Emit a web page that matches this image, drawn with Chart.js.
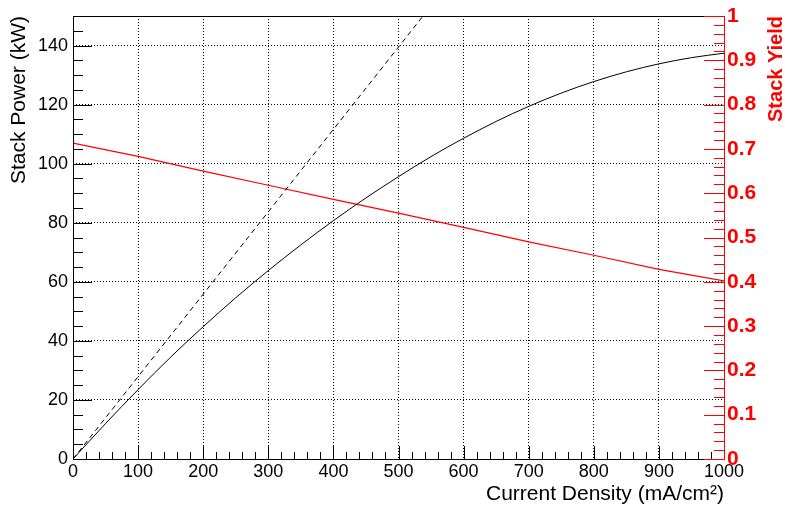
<!DOCTYPE html>
<html>
<head>
<meta charset="utf-8">
<script src="https://cdn.jsdelivr.net/npm/chart.js@4.4.0/dist/chart.umd.min.js"></script>
<style>
  html, body { margin: 0; padding: 0; background: #fff; }
  #wrap { width: 785px; height: 507px; }
</style>
</head>
<body>
<div id="wrap"><canvas id="c" width="785" height="507"></canvas></div>
<script>
// values
const currentDensity = [0, 50, 100, 150, 200, 250, 300, 350, 400, 450, 500, 550, 600, 650, 700, 750, 800, 850, 900, 950, 1000];
const stackPower = [0, 12, 23.5, 34.5, 44.8, 54.6, 63.8, 72.5, 80.7, 88.4, 95.6, 102.4, 108.6, 114.3, 119.4, 123.9, 127.8, 131.1, 133.8, 135.9, 137.4];
const idealDensity = [0, 1000];
const idealPower = [0, 279];
const yieldDensity = [0, 100, 200, 300, 400, 500, 600, 700, 800, 900, 1000];
const stackYield = [0.713, 0.683, 0.65, 0.618, 0.586, 0.555, 0.523, 0.49, 0.46, 0.428, 0.402];

const xTicks = [0, 100, 200, 300, 400, 500, 600, 700, 800, 900, 1000];
const powerTicks = [0, 20, 40, 60, 80, 100, 120, 140];
const yieldTicks = [0, 0.1, 0.2, 0.3, 0.4, 0.5, 0.6, 0.7, 0.8, 0.9, 1];

const RED = '#ff0000';
const FONT = 'Liberation Sans, Arial, Helvetica, sans-serif';

function pts(xs, ys) {
    return xs.map(function (x, i) { return { x: x, y: ys[i] }; });
}

// ROOT style frame with ticks drawn inside the pad
const frameTicks = {
    id: 'frameTicks',
    afterDraw: function (chart) {
        const ctx = chart.ctx;
        const a = chart.chartArea;
        const xs = chart.scales.x, yl = chart.scales.y, yr = chart.scales.y2;
        ctx.save();
        ctx.lineWidth = 1;

        // x ticks (bottom)
        ctx.strokeStyle = '#000';
        ctx.beginPath();
        for (let v = 0; v <= 1000; v += 20) {
            const px = Math.round(xs.getPixelForValue(v)) + 0.5;
            const len = v % 100 === 0 ? 13 : 7;
            ctx.moveTo(px, a.bottom);
            ctx.lineTo(px, a.bottom - len);
        }
        // left y ticks
        for (let v = 0; v <= 150; v += 5) {
            const py = Math.round(yl.getPixelForValue(v)) + 0.5;
            const len = v % 20 === 0 ? 19 : 10;
            ctx.moveTo(a.left, py);
            ctx.lineTo(a.left + len, py);
        }
        ctx.stroke();

        // frame: bottom, left, top in black
        ctx.beginPath();
        ctx.moveTo(a.left + 0.5, a.bottom + 0.5);
        ctx.lineTo(a.left + 0.5, a.top + 0.5);
        ctx.lineTo(a.right, a.top + 0.5);
        ctx.moveTo(a.left, a.bottom + 0.5);
        ctx.lineTo(a.right - 10, a.bottom + 0.5);
        ctx.stroke();

        // right axis in red
        ctx.strokeStyle = RED;
        ctx.beginPath();
        ctx.moveTo(a.right + 0.5, a.top);
        ctx.lineTo(a.right + 0.5, a.bottom + 1);
        ctx.moveTo(a.right - 10, a.bottom + 0.5);
        ctx.lineTo(a.right, a.bottom + 0.5);
        for (let i = 0; i <= 50; i++) {
            const v = i / 50;
            const py = Math.round(yr.getPixelForValue(v)) + 0.5;
            const len = i % 5 === 0 ? 20 : 10;
            ctx.moveTo(a.right, py);
            ctx.lineTo(a.right - len, py);
        }
        ctx.stroke();

        // right axis title, reads bottom to top
        ctx.fillStyle = RED;
        ctx.font = 'bold 20px ' + FONT;
        ctx.translate(776, a.top);
        ctx.rotate(-Math.PI / 2);
        ctx.textAlign = 'right';
        ctx.textBaseline = 'middle';
        ctx.fillText('Stack Yield', 0, 0);
        ctx.restore();
    }
};

new Chart(document.getElementById('c'), {
    type: 'line',
    data: {
        datasets: [
            {
                data: pts(currentDensity, stackPower),
                yAxisID: 'y',
                borderColor: '#000',
                borderWidth: 1,
                pointRadius: 0,
                cubicInterpolationMode: 'monotone'
            },
            {
                data: pts(idealDensity, idealPower),
                yAxisID: 'y',
                borderColor: '#000',
                borderWidth: 1,
                borderDash: [5, 4],
                pointRadius: 0
            },
            {
                data: pts(yieldDensity, stackYield),
                yAxisID: 'y2',
                borderColor: RED,
                borderWidth: 1.2,
                pointRadius: 0,
                tension: 0
            }
        ]
    },
    options: {
        responsive: false,
        animation: false,
        layout: { padding: { top: 16, left: 0, right: 0, bottom: 0 } },
        plugins: { legend: { display: false }, tooltip: { enabled: false } },
        scales: {
            x: {
                type: 'linear',
                min: 0, max: 1000,
                afterBuildTicks: function (s) { s.ticks = xTicks.map(function (v) { return { value: v }; }); },
                afterFit: function (s) { s.height = 48; },
                grid: { color: '#000', lineWidth: 1, drawTicks: false },
                border: { display: false, dash: [1, 2] },
                ticks: {
                    color: '#000', font: { family: FONT, size: 18 }, padding: 2, maxRotation: 0,
                    callback: function (v) { return String(v); }
                },
                title: {
                    display: true, text: 'Current Density (mA/cm²)', align: 'end',
                    color: '#000', font: { family: FONT, size: 21 }, padding: { top: 0, bottom: 0 }
                }
            },
            y: {
                type: 'linear', position: 'left',
                min: 0, max: 150,
                afterBuildTicks: function (s) { s.ticks = powerTicks.map(function (v) { return { value: v }; }); },
                afterFit: function (s) { s.width = 73; },
                grid: { color: '#000', lineWidth: 1, drawTicks: false },
                border: { display: false, dash: [1, 2] },
                ticks: { color: '#000', font: { family: FONT, size: 18 }, padding: 5 },
                title: {
                    display: true, text: 'Stack Power (kW)', align: 'end',
                    color: '#000', font: { family: FONT, size: 21 }, padding: { top: 7, bottom: 0 }
                }
            },
            y2: {
                type: 'linear', position: 'right',
                min: 0, max: 1,
                afterBuildTicks: function (s) { s.ticks = yieldTicks.map(function (v) { return { value: v }; }); },
                afterFit: function (s) { s.width = 61; },
                grid: { display: false, drawTicks: false },
                border: { display: false },
                ticks: {
                    color: RED, font: { family: FONT, size: 21, weight: 'bold' }, padding: 3,
                    callback: function (v) { return String(Math.round(v * 10) / 10); }
                }
            }
        }
    },
    plugins: [frameTicks]
});
</script>
</body>
</html>
